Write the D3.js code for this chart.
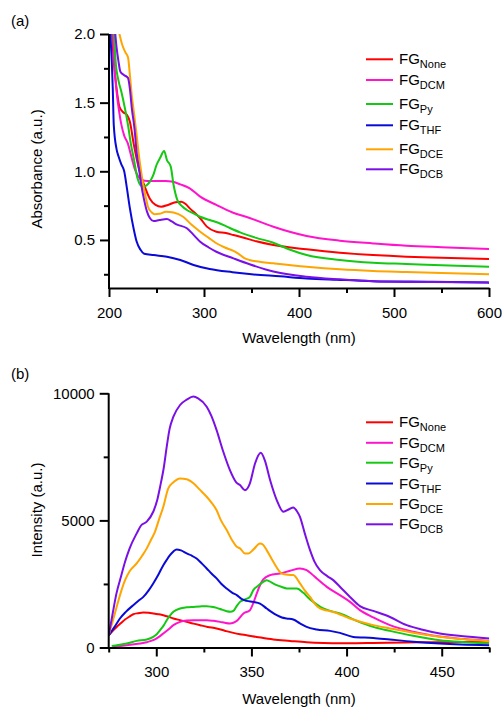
<!DOCTYPE html>
<html><head><meta charset="utf-8">
<script src="https://cdn.jsdelivr.net/npm/d3@7"></script>
<style>
html,body{margin:0;padding:0;background:#fff;}
svg text{font-family:"Liberation Sans",Arial,sans-serif;fill:#000;}
</style></head>
<body><svg id="c" width="502" height="709"></svg>
<script>
// ---------- Panel (a): absorbance ----------
const absNone = [[203,2.05],[205,1.8],[208,1.6],[211,1.47],[215,1.43],[219,1.41],[222,1.36],[226,1.2],[229,1.095],[233,0.98],[237,0.9],[243,0.8],[249,0.755],[255,0.742],[262,0.755],[270,0.775],[276,0.779],[281,0.76],[285,0.73],[290,0.7],[296,0.658],[303,0.597],[313,0.56],[323,0.55],[331,0.536],[340,0.52],[355,0.49],[373,0.463],[408,0.432],[443,0.407],[478,0.39],[513,0.378],[550,0.37],[600,0.361]];
const absDCM = [[204,2.05],[206,1.75],[208,1.58],[211,1.42],[213,1.34],[216,1.26],[220,1.2],[223,1.12],[227,1.02],[231,0.96],[235,0.935],[240,0.93],[250,0.93],[260,0.93],[266,0.925],[275,0.905],[285,0.876],[296,0.815],[313,0.755],[330,0.7],[348,0.66],[373,0.596],[408,0.529],[443,0.495],[478,0.475],[513,0.458],[550,0.447],[600,0.434]];
const absPy = [[205,2.05],[207,1.8],[210,1.66],[213,1.58],[217,1.45],[220,1.337],[223,1.2],[226,1.095],[230,0.95],[233,0.9],[236,0.888],[240,0.9],[243,0.925],[247,0.98],[250,1.046],[254,1.1],[258,1.148],[261,1.082],[265,1.034],[268,0.9],[272,0.79],[277,0.745],[282,0.718],[290,0.69],[296,0.669],[306,0.645],[315,0.625],[324,0.597],[338,0.555],[355,0.515],[373,0.48],[390,0.43],[408,0.39],[443,0.354],[478,0.334],[513,0.325],[550,0.315],[600,0.305]];
const absTHF = [[201,2.05],[204,1.6],[205,1.34],[208,1.16],[210,1.11],[213,1.05],[216,1.0],[219,0.87],[222,0.73],[226,0.58],[229,0.49],[233,0.43],[237,0.4],[247,0.39],[261,0.378],[275,0.354],[289,0.318],[306,0.288],[330,0.265],[350,0.25],[380,0.235],[408,0.22],[440,0.21],[478,0.2],[540,0.195],[600,0.189]];
const absDCE = [[208,2.1],[211,2.0],[214,1.92],[217,1.87],[220,1.83],[222,1.7],[224,1.55],[226,1.44],[229,1.27],[231,1.143],[234,0.99],[236,0.9],[239,0.8],[241,0.742],[245,0.7],[248,0.687],[253,0.69],[260,0.706],[268,0.7],[278,0.669],[287,0.61],[296,0.56],[305,0.515],[313,0.476],[322,0.445],[331,0.42],[336,0.4],[342,0.37],[348,0.354],[360,0.34],[373,0.33],[408,0.305],[443,0.286],[478,0.274],[513,0.267],[550,0.26],[600,0.25]];
const absDCB = [[206,2.05],[208,1.9],[210,1.8],[212,1.725],[216,1.7],[220,1.68],[222,1.6],[224,1.46],[227,1.3],[229,1.143],[232,1.0],[234,0.9],[237,0.79],[240,0.706],[243,0.66],[247,0.638],[253,0.645],[261,0.652],[266,0.635],[271,0.614],[282,0.585],[290,0.53],[296,0.487],[305,0.445],[313,0.414],[331,0.366],[348,0.323],[373,0.27],[408,0.232],[443,0.213],[478,0.2],[540,0.193],[600,0.19]];

// ---------- Panel (b): emission ----------
const emNone = [[275,480],[277,650],[279.2,810],[281.5,960],[283.6,1100],[285.8,1210],[287.9,1310],[290.5,1350],[293.2,1378],[296,1365],[298.4,1340],[301,1310],[303.7,1272],[306.5,1210],[309,1142],[312.5,1075],[316,1008],[319.5,940],[323,878],[327,810],[331.7,748],[336,660],[340.5,575],[344,524],[347.5,484],[352.8,417],[361.5,315],[370.3,260],[379,209],[388,180],[396.5,169],[405,172],[414,181],[430,195],[449,210],[462,220],[475,230]];
const emDCM = [[277,24],[284.5,90],[291.4,157],[295,210],[298.4,287],[301,400],[303.7,551],[306.5,720],[309,878],[312.5,1008],[316,1060],[319.5,1075],[326.5,1075],[330,1050],[333.5,1008],[336,970],[338.7,945],[340.5,975],[342.3,1047],[345.8,1339],[349.2,1468],[351,1750],[352.8,2126],[354.5,2450],[356.2,2677],[359.8,2846],[365,2913],[370.3,3016],[375.5,3110],[379,3043],[381.5,2900],[384.3,2716],[389.6,2386],[396.5,2059],[401.8,1795],[407,1468],[414,1181],[422.8,878],[435,620],[449,430],[462,330],[475,260]];
const emPy = [[276.6,63],[280,100],[284.5,157],[289.7,260],[295,315],[298.4,417],[300.5,540],[302,681],[304,880],[305.5,1075],[307.5,1280],[309,1402],[312.5,1535],[316,1580],[319.5,1598],[323,1615],[326.5,1626],[329,1600],[331.7,1559],[334.5,1490],[337,1429],[339,1410],[340.5,1441],[342,1600],[344,1795],[347,1900],[349.2,1992],[351,2256],[353.5,2430],[356.2,2583],[358,2650],[360.5,2560],[363.3,2453],[366,2380],[368.5,2323],[373.8,2323],[377.3,2150],[380,1950],[382.5,1795],[387.8,1535],[392,1430],[396.5,1339],[405.3,1047],[414,811],[422.8,654],[435,460],[449,287],[462,210],[475,157]];
const emTHF = [[275,480],[278,800],[280.9,1140],[284,1400],[287.9,1665],[290.5,1830],[293.2,1990],[296,2250],[298.4,2520],[301,2850],[303.7,3240],[305.5,3450],[307.2,3630],[309,3780],[310.7,3860],[313,3820],[316,3700],[318.5,3620],[321.2,3500],[324,3300],[326.5,3110],[329,2910],[331.7,2720],[334,2520],[337,2320],[340,2150],[342.3,2060],[345,1900],[347.5,1835],[351,1795],[354.5,1730],[358,1535],[360.5,1400],[363.3,1270],[366,1180],[368.5,1142],[372,1100],[375.5,950],[379,810],[384.3,710],[391.3,654],[396.5,575],[403.5,417],[414,378],[422.8,315],[435,230],[449,157],[460,120],[475,90]];
const emDCE = [[275,480],[277,1000],[279.2,1600],[281.5,2200],[283.6,2650],[286,3000],[289.7,3307],[292.5,3600],[295,3900],[297,4200],[299.3,4550],[301.5,5050],[303.7,5535],[306.3,6260],[309,6500],[312.5,6650],[316,6620],[319.5,6460],[323,6200],[326.5,5930],[329,5700],[331.7,5400],[334,5000],[337,4620],[340,4200],[342.3,3960],[344,3900],[346.6,3700],[348.4,3700],[351,3850],[354.5,4090],[356,4050],[358,3830],[361.5,3370],[365.9,2910],[369,2860],[372,2850],[375.5,2520],[378,2250],[380.8,1990],[383,1750],[386,1535],[390,1450],[393,1400],[401.8,1140],[414,880],[422.8,750],[435,580],[449,420],[460,330],[475,250]];
const emDCB = [[275,480],[277,1300],[279,2100],[281.5,2800],[283.6,3370],[286,3900],[289.7,4488],[292,4800],[295,4950],[298.4,5340],[300.5,5800],[302,6320],[304,7100],[305.5,7900],[307,8600],[309,9080],[312.5,9540],[316,9750],[319.5,9870],[322,9800],[326.5,9470],[329,9100],[331.7,8550],[335,7750],[338.7,6980],[342,6500],[344,6390],[346.6,6190],[349.2,6460],[351.9,7240],[354.9,7660],[357,7370],[359.8,6590],[363.3,5800],[366.8,5340],[370,5450],[372,5510],[374,5350],[375.5,5140],[378,4500],[380.8,3830],[383,3400],[386,3040],[390,2800],[393,2650],[396.5,2390],[401.8,1990],[407,1630],[414,1440],[422.8,1200],[431.6,880],[440,700],[449,550],[460,450],[475,354]];

const seriesNames = ["None","DCM","Py","THF","DCE","DCB"];
const seriesColors = ["#ff0000","#ff14cc","#14c814","#0a0ad8","#ffa500","#7a10e6"];
const absData = [absNone,absDCM,absPy,absTHF,absDCE,absDCB];
const emData = [emNone,emDCM,emPy,emTHF,emDCE,emDCB];

const absXMajor = [200,300,400,500,600], absXMinor = [250,350,450,550];
const absYMajor = [0.5,1.0,1.5,2.0], absYMinor = [0.25,0.75,1.25,1.75];
const emXMajor = [300,350,400,450], emXMinor = [275,325,375,425,475];
const emYMajor = [0,5000,10000], emYMinor = [2500,7500];

const svg = d3.select("#c");
const FS = 15;

function panel(o){
  const g = svg.append("g");
  const [x0,x1] = o.x.range(), [yb,yt] = o.y.range();
  const cid = "clip"+o.tag;
  svg.append("defs").append("clipPath").attr("id",cid)
    .append("rect").attr("x",x0).attr("y",yt).attr("width",x1-x0).attr("height",yb-yt);
  const line = d3.line().x(d=>o.x(d[0])).y(d=>o.y(d[1])).curve(d3.curveMonotoneX);
  g.append("g").attr("clip-path",`url(#${cid})`).selectAll("path").data(o.data).join("path")
    .attr("d",line).attr("fill","none").attr("stroke",(d,i)=>seriesColors[i])
    .attr("stroke-width",2).attr("stroke-linejoin","round");
  // axes
  const style = s => { s.selectAll("line,path").attr("stroke","#000").attr("stroke-width",2);
    s.selectAll("text").attr("font-size",FS).attr("font-family","Liberation Sans, Arial, sans-serif").attr("fill","#000"); };
  g.append("g").attr("transform",`translate(0,${yb})`)
    .call(d3.axisBottom(o.x).tickValues(o.xMin).tickSize(5).tickFormat("")).call(s=>s.select(".domain").remove()).call(style);
  g.append("g").attr("transform",`translate(${x0},0)`)
    .call(d3.axisLeft(o.y).tickValues(o.yMin).tickSize(5).tickFormat("")).call(s=>s.select(".domain").remove()).call(style);
  g.append("g").attr("transform",`translate(0,${yb})`)
    .call(d3.axisBottom(o.x).tickValues(o.xMaj).tickSize(9).tickSizeOuter(0).tickPadding(10).tickFormat(d3.format("d"))).call(style);
  g.append("g").attr("transform",`translate(${x0},0)`)
    .call(d3.axisLeft(o.y).tickValues(o.yMaj).tickSize(9).tickSizeOuter(0).tickPadding(5).tickFormat(o.yFmt)).call(style)
    .call(s=>s.select(".domain").attr("d",`M0,${yb+1}V${yt}`));
  // titles
  g.append("text").attr("x",(x0+x1)/2).attr("y",o.xTitleY).attr("text-anchor","middle").attr("font-size",FS).text("Wavelength (nm)");
  g.append("text").attr("transform",`translate(42,${o.yTitleC}) rotate(-90)`).attr("text-anchor","middle").attr("font-size",FS).text(o.yTitle);
  g.append("text").attr("x",11).attr("y",o.tagY).attr("font-size",FS).text(`(${o.tag})`);
  // legend
  const lg = g.append("g");
  o.legY.forEach((ly,i)=>{
    lg.append("line").attr("x1",366).attr("x2",393).attr("y1",ly).attr("y2",ly).attr("stroke",seriesColors[i]).attr("stroke-width",2);
    const t = lg.append("text").attr("x",399).attr("y",ly+5).attr("font-size",FS);
    t.append("tspan").text("FG");
    t.append("tspan").attr("font-size",11).attr("dy",4).text(seriesNames[i]);
  });
}

panel({tag:"a", data:absData,
  x:d3.scaleLinear([200,600],[109,489]), y:d3.scaleLinear([0.15,2.0],[288,34]),
  xMaj:absXMajor, xMin:absXMinor, yMaj:absYMajor, yMin:absYMinor, yFmt:d3.format(".1f"),
  xTitleY:343, yTitle:"Absorbance (a.u.)", yTitleC:169, tagY:26,
  legY:[59.3,80,104,125.3,149.3,169.3]});
panel({tag:"b", data:emData,
  x:d3.scaleLinear([275,475],[108.7,489.3]), y:d3.scaleLinear([0,10000],[647.5,393.3]),
  xMaj:emXMajor, xMin:emXMinor, yMaj:emYMajor, yMin:emYMinor, yFmt:d3.format("d"),
  xTitleY:704, yTitle:"Intensity (a.u.)", yTitleC:510, tagY:379,
  legY:[422.3,442.8,462.7,483.5,504,524.3]});
</script></body></html>
